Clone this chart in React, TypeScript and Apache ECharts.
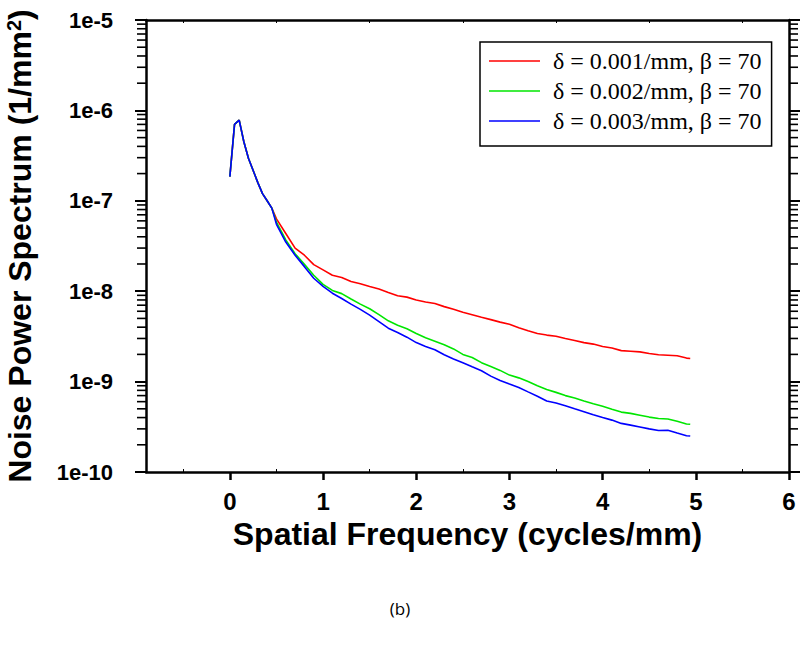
import React, { useEffect, useRef } from "react";
import * as echarts from "echarts";

const freq = [
  0, 0.05, 0.1, 0.15, 0.2, 0.25, 0.3, 0.35, 0.4, 0.45,
  0.5, 0.6, 0.7, 0.8, 0.9, 1.0, 1.1, 1.2, 1.3, 1.4,
  1.5, 1.6, 1.7, 1.8, 1.9, 2.0, 2.1, 2.2, 2.3, 2.4,
  2.5, 2.6, 2.7, 2.8, 2.9, 3.0, 3.1, 3.2, 3.3, 3.4,
  3.5, 3.6, 3.7, 3.8, 3.9, 4.0, 4.1, 4.2, 4.3, 4.4,
  4.5, 4.6, 4.7, 4.8, 4.9, 4.94,
];

const nps001 = [
  1.85e-7, 7.0e-7, 7.8e-7, 4.5e-7, 2.94e-7, 2.16e-7, 1.59e-7, 1.2e-7, 1.0e-7, 8.3e-8,
  6.3e-8, 4.35e-8, 3.0e-8, 2.5e-8, 1.97e-8, 1.72e-8, 1.5e-8, 1.42e-8, 1.28e-8, 1.21e-8,
  1.13e-8, 1.06e-8, 9.7e-9, 8.9e-9, 8.6e-9, 8.0e-9, 7.6e-9, 7.3e-9, 6.75e-9, 6.3e-9,
  5.85e-9, 5.5e-9, 5.15e-9, 4.85e-9, 4.55e-9, 4.3e-9, 3.95e-9, 3.65e-9, 3.4e-9, 3.27e-9,
  3.18e-9, 3.0e-9, 2.85e-9, 2.7e-9, 2.6e-9, 2.45e-9, 2.35e-9, 2.2e-9, 2.17e-9, 2.13e-9,
  2.05e-9, 1.98e-9, 1.96e-9, 1.93e-9, 1.82e-9, 1.8e-9,
];

const nps002 = [
  1.85e-7, 7.0e-7, 7.8e-7, 4.5e-7, 2.94e-7, 2.16e-7, 1.59e-7, 1.2e-7, 1.0e-7, 8.3e-8,
  5.8e-8, 3.7e-8, 2.6e-8, 1.98e-8, 1.5e-8, 1.19e-8, 1.02e-8, 9.4e-9, 8.2e-9, 7.2e-9,
  6.4e-9, 5.5e-9, 4.7e-9, 4.2e-9, 3.85e-9, 3.4e-9, 3.05e-9, 2.8e-9, 2.55e-9, 2.3e-9,
  2.0e-9, 1.85e-9, 1.62e-9, 1.47e-9, 1.33e-9, 1.18e-9, 1.1e-9, 1.0e-9, 9.0e-10, 8.2e-10,
  7.6e-10, 7.0e-10, 6.6e-10, 6.1e-10, 5.7e-10, 5.35e-10, 4.95e-10, 4.6e-10, 4.45e-10, 4.25e-10,
  4.05e-10, 3.9e-10, 3.85e-10, 3.65e-10, 3.4e-10, 3.37e-10,
];

const nps003 = [
  1.85e-7, 7.0e-7, 7.8e-7, 4.5e-7, 2.94e-7, 2.16e-7, 1.59e-7, 1.2e-7, 1.0e-7, 8.3e-8,
  5.5e-8, 3.5e-8, 2.5e-8, 1.87e-8, 1.39e-8, 1.13e-8, 9.5e-9, 8.3e-9, 7.2e-9, 6.3e-9,
  5.43e-9, 4.6e-9, 3.9e-9, 3.5e-9, 3.1e-9, 2.7e-9, 2.45e-9, 2.25e-9, 1.98e-9, 1.78e-9,
  1.62e-9, 1.46e-9, 1.32e-9, 1.15e-9, 1.03e-9, 9.4e-10, 8.6e-10, 7.7e-10, 6.9e-10, 6.1e-10,
  5.8e-10, 5.4e-10, 5.0e-10, 4.65e-10, 4.3e-10, 4.0e-10, 3.75e-10, 3.45e-10, 3.3e-10, 3.15e-10,
  3.0e-10, 2.88e-10, 2.9e-10, 2.7e-10, 2.52e-10, 2.5e-10,
];

const seriesNames = [
  "δ = 0.001/mm, β = 70",
  "δ = 0.002/mm, β = 70",
  "δ = 0.003/mm, β = 70",
];
const seriesColors = ["#ff0000", "#00e600", "#0000ff"];

const xMajorTicks = [0, 1, 2, 3, 4, 5, 6];
const xMinorTicks = [-0.5, 0.5, 1.5, 2.5, 3.5, 4.5, 5.5];
const yDecades = [-10, -9, -8, -7, -6];
const yMinorMultipliers = [2, 3, 4, 5, 6, 7, 8, 9];

const X_MIN = -0.9;
const X_MAX = 6;
const Y_MIN = 1e-10;
const Y_MAX = 1e-5;

export default function App() {
  const ref = useRef<HTMLDivElement>(null);

  useEffect(() => {
    if (!ref.current) return;
    const chart = echarts.init(ref.current, null, { renderer: "svg" });

    const minorY: number[][] = [];
    yDecades.forEach((d) => {
      yMinorMultipliers.forEach((m) => {
        minorY.push([0, m * Math.pow(10, d)]);
      });
    });

    const axisLine = { show: true, onZero: false, lineStyle: { color: "#000", width: 2.5 } };
    const sans = "'Liberation Sans', Arial, sans-serif";

    const series: any[] = [nps001, nps002, nps003].map((vals, i) => ({
      name: seriesNames[i],
      type: "line",
      xAxisIndex: 0,
      yAxisIndex: 0,
      symbol: "none",
      showSymbol: false,
      smooth: false,
      data: freq.map((f, j) => [f, vals[j]]),
      lineStyle: { color: seriesColors[i], width: 1.6 },
      itemStyle: { color: seriesColors[i] },
      z: 3 + i,
    }));

    series.push({
      type: "custom",
      name: "minorTicks",
      xAxisIndex: 0,
      yAxisIndex: 0,
      silent: true,
      clip: false,
      data: minorY,
      renderItem: (params: any, api: any) => {
        const cs = params.coordSys;
        const y = api.coord([0, api.value(1)])[1];
        return {
          type: "group",
          children: [
            {
              type: "line",
              shape: { x1: cs.x - 9, y1: y, x2: cs.x, y2: y },
              style: { stroke: "#000", lineWidth: 1.6 },
            },
            {
              type: "line",
              shape: { x1: cs.x + cs.width, y1: y, x2: cs.x + cs.width + 9, y2: y },
              style: { stroke: "#000", lineWidth: 1.6 },
            },
          ],
        };
      },
      z: 6,
    });

    chart.setOption({
      animation: false,
      backgroundColor: "#fff",
      grid: {
        left: 146,
        right: 11,
        top: 20,
        bottom: 179,
        containLabel: false,
        outerBoundsMode: "none",
      },
      legend: {
        data: seriesNames.map((n) => ({ name: n, icon: "rect" })),
        orient: "vertical",
        left: 480,
        top: 42,
        itemWidth: 51,
        itemHeight: 1.6,
        itemGap: 6,
        padding: [7, 10, 13, 9],
        borderColor: "#000",
        borderWidth: 1.5,
        backgroundColor: "#fff",
        textStyle: {
          fontFamily: "'Liberation Serif', 'Times New Roman', serif",
          fontSize: 24,
          lineHeight: 24,
          color: "#000",
          padding: [0, 0, 0, 8],
        },
      },
      xAxis: [
        {
          type: "value",
          position: "bottom",
          min: X_MIN,
          max: X_MAX,
          axisLine,
          axisTick: {
            show: true,
            customValues: xMajorTicks,
            length: 8,
            lineStyle: { color: "#000", width: 2.5 },
          },
          axisLabel: {
            customValues: xMajorTicks,
            fontSize: 24,
            fontWeight: "bold",
            fontFamily: sans,
            color: "#000",
            margin: 17,
          },
          splitLine: { show: false },
          name: "Spatial Frequency (cycles/mm)",
          nameLocation: "middle",
          nameGap: 41,
          nameTextStyle: {
            fontSize: 32,
            fontWeight: "bold",
            fontFamily: sans,
            color: "#000",
          },
        },
        {
          type: "value",
          position: "bottom",
          min: X_MIN,
          max: X_MAX,
          axisLine: { show: false, onZero: false },
          axisTick: {
            show: true,
            inside: true,
            customValues: xMinorTicks,
            length: 3,
            lineStyle: { color: "#000", width: 1 },
          },
          axisLabel: { show: false },
          splitLine: { show: false },
        },
        {
          type: "value",
          position: "top",
          min: X_MIN,
          max: X_MAX,
          axisLine,
          axisTick: {
            show: true,
            inside: true,
            customValues: xMinorTicks,
            length: 3,
            lineStyle: { color: "#000", width: 1 },
          },
          axisLabel: { show: false },
          splitLine: { show: false },
        },
      ],
      yAxis: [
        {
          type: "log",
          logBase: 10,
          position: "left",
          min: Y_MIN,
          max: Y_MAX,
          axisLine,
          axisTick: { show: true, length: 11, lineStyle: { color: "#000", width: 2 } },
          axisLabel: {
            fontSize: 22,
            fontWeight: "bold",
            fontFamily: sans,
            color: "#000",
            margin: 33,
            formatter: (v: number) => "1e" + Math.round(Math.log10(v)),
          },
          splitLine: { show: false },
          minorTick: { show: false },
          name: "{a|Noise Power Spectrum (1/mm}{s|2}{a|)}",
          nameLocation: "middle",
          nameGap: 110,
          nameTextStyle: {
            color: "#000",
            rich: {
              a: { fontSize: 32, fontWeight: "bold", fontFamily: sans, color: "#000" },
              s: {
                fontSize: 20,
                fontWeight: "bold",
                fontFamily: sans,
                color: "#000",
                verticalAlign: "top",
                padding: [0, 0, 12, 0],
              },
            },
          },
        },
        {
          type: "log",
          logBase: 10,
          position: "right",
          min: Y_MIN,
          max: Y_MAX,
          axisLine,
          axisTick: { show: true, length: 11, lineStyle: { color: "#000", width: 2 } },
          axisLabel: { show: false },
          splitLine: { show: false },
        },
      ],
      graphic: [
        {
          type: "text",
          x: 400,
          y: 608,
          style: {
            text: "(b)",
            textAlign: "center",
            textVerticalAlign: "middle",
            font: "17px 'Open Sans', sans-serif",
            fill: "#000",
          },
        },
      ],
      series,
    });

    return () => chart.dispose();
  }, []);

  return (
    <div
      ref={ref}
      style={{ position: "fixed", left: 0, top: 0, width: 800, height: 651, background: "#fff" }}
    />
  );
}
